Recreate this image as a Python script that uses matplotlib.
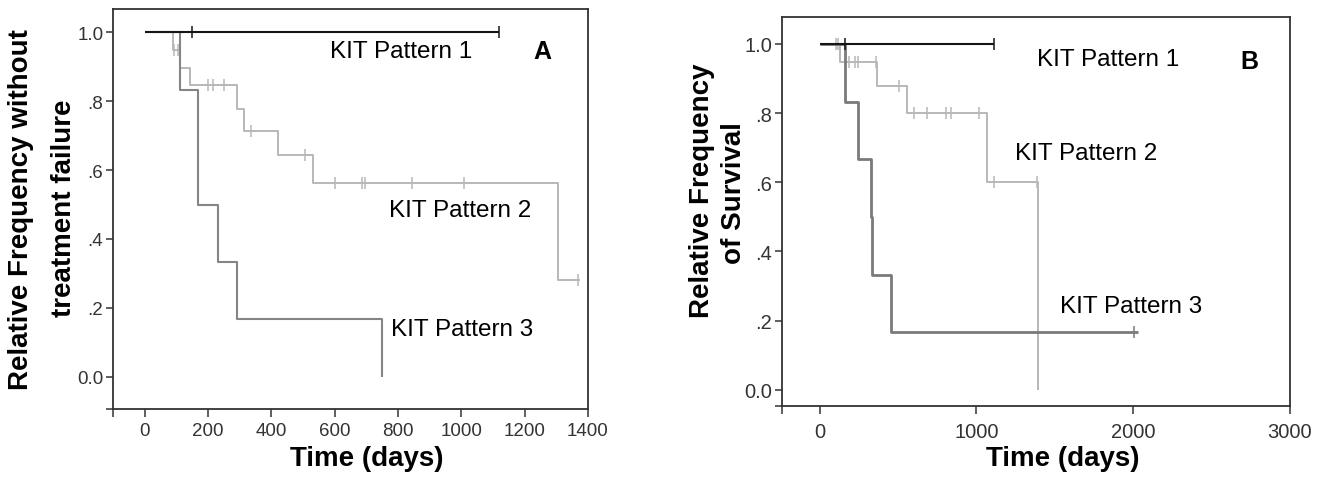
import numpy as np
import matplotlib
matplotlib.use("Agg")
import matplotlib.pyplot as plt
from matplotlib.ticker import FixedLocator

plt.rcParams['font.family'] = ['Liberation Sans', 'DejaVu Sans']

# ---------------- Panel A: treatment failure ----------------
a_p1_t = [0, 1120]
a_p1_s = [1.0, 1.0]
a_p1_cens = [151, 1120]

a_p2_t = [0, 90, 111, 143, 293, 314, 420, 532, 1304, 1375]
a_p2_s = [1.0, 0.947, 0.895, 0.847, 0.777, 0.714, 0.643, 0.561, 0.281, 0.281]
a_p2_cens = [92, 104, 200, 216, 250, 337, 506, 601, 687, 696, 845, 1007, 1367]

a_p3_t = [0, 113, 167, 231, 290, 751]
a_p3_s = [1.0, 0.833, 0.5, 0.333, 0.167, 0.0]
a_p3_cens = []

a_xticks = [0, 200, 400, 600, 800, 1000, 1200, 1400]
a_yticks = [0.0, 0.2, 0.4, 0.6, 0.8, 1.0]
a_yticklabels = ["0.0", ".2", ".4", ".6", ".8", "1.0"]

# ---------------- Panel B: survival ----------------
b_p1_t = [0, 1110]
b_p1_s = [1.0, 1.0]
b_p1_cens = [160, 1110]

b_p2_t = [0, 130, 367, 555, 1067, 1390]
b_p2_s = [1.0, 0.947, 0.878, 0.80, 0.60, 0.0]
b_p2_cens = [105, 115, 187, 223, 244, 357, 505, 599, 684, 805, 837, 1018, 1110, 1386]

b_p3_t = [0, 160, 244, 325, 336, 455, 2030]
b_p3_s = [1.0, 0.833, 0.667, 0.5, 0.333, 0.167, 0.167]
b_p3_cens = [2006]

b_xticks = [0, 1000, 2000, 3000]
b_yticks = [0.0, 0.2, 0.4, 0.6, 0.8, 1.0]
b_yticklabels = ["0.0", ".2", ".4", ".6", ".8", "1.0"]

labels = ["KIT Pattern 1", "KIT Pattern 2", "KIT Pattern 3"]

C1, C2, C3 = "#151515", "#b8b8b8", "#858585"

W, H = 1328, 485
fig = plt.figure(figsize=(W / 100, H / 100), dpi=100)


def px_axes(l, t, r, b):
    return fig.add_axes([l / W, 1 - b / H, (r - l) / W, (b - t) / H])


def km(ax, t, s, cens, color, lw, z):
    t = np.asarray(t, float)
    s = np.asarray(s, float)
    ax.step(t, s, where='post', color=color, lw=lw, zorder=z, solid_capstyle='butt')
    if len(cens):
        c = np.asarray(cens, float)
        idx = np.searchsorted(t, c, side='right') - 1
        ax.plot(c, s[idx], ls='none', marker='|', ms=9, mew=1.1, color=color, zorder=z)


def style(ax, xlim, ylim, xticks, yticks, yticklabels, tfs, xpad):
    ax.set_xlim(*xlim)
    ax.set_ylim(*ylim)
    ax.set_xticks(xticks)
    ax.set_yticks(yticks)
    ax.set_yticklabels(yticklabels)
    ax.xaxis.set_minor_locator(FixedLocator([xlim[0]]))
    ax.yaxis.set_minor_locator(FixedLocator([ylim[0]]))
    for sp in ax.spines.values():
        sp.set_color("#333333")
        sp.set_linewidth(1.3)
    ax.tick_params(axis='x', which='both', direction='out', length=6, width=1.1,
                   color="#333333", labelsize=tfs, labelcolor="#333333", pad=xpad)
    ax.tick_params(axis='y', which='both', direction='out', length=5, width=1.1,
                   color="#333333", labelsize=tfs, labelcolor="#333333", pad=2)


# Panel A
axA = px_axes(113, 10, 588, 410)
km(axA, a_p2_t, a_p2_s, a_p2_cens, C2, 1.4, 2)
km(axA, a_p3_t, a_p3_s, a_p3_cens, C3, 1.5, 3)
km(axA, a_p1_t, a_p1_s, a_p1_cens, C1, 1.5, 4)
style(axA, (-100, 1400), (-0.093, 1.067), a_xticks, a_yticks, a_yticklabels, 13.5, 3.5)
tfs = 17.5
axA.text(585, 0.946, labels[0], fontsize=tfs, ha='left', va='center')
axA.text(771, 0.485, labels[1], fontsize=tfs, ha='left', va='center')
axA.text(777, 0.139, labels[2], fontsize=tfs, ha='left', va='center')
axA.text(1226, 0.946, "A", fontsize=18, fontweight='bold', ha='left', va='center')

# Panel B
axB = px_axes(782, 18, 1290, 407)
km(axB, b_p2_t, b_p2_s, b_p2_cens, C2, 1.4, 2)
km(axB, b_p3_t, b_p3_s, b_p3_cens, "#7a7a7a", 2.0, 3)
km(axB, b_p1_t, b_p1_s, b_p1_cens, C1, 1.5, 4)
style(axB, (-240, 3000), (-0.047, 1.078), b_xticks, b_yticks, b_yticklabels, 14.5, 5.5)
axB.text(1386, 0.957, labels[0], fontsize=tfs, ha='left', va='center')
axB.text(1244, 0.685, labels[1], fontsize=tfs, ha='left', va='center')
axB.text(1533, 0.242, labels[2], fontsize=tfs, ha='left', va='center')
axB.text(2681, 0.952, "B", fontsize=18, fontweight='bold', ha='left', va='center')

# Axis titles
lab = dict(fontsize=20, fontweight='bold', ha='center', va='center')
fig.text(21 / W, 1 - 210 / H, "Relative Frequency without", rotation=90, **lab)
fig.text(64 / W, 1 - 208 / H, "treatment failure", rotation=90, **lab)
fig.text(367 / W, 1 - 459 / H, "Time (days)", **lab)

fig.text(702 / W, 1 - 191 / H, "Relative Frequency", rotation=90, **lab)
fig.text(734 / W, 1 - 193 / H, "of Survival", rotation=90, **lab)
fig.text(1063 / W, 1 - 459 / H, "Time (days)", **lab)

fig.savefig("out.png", dpi=100, facecolor='white')
